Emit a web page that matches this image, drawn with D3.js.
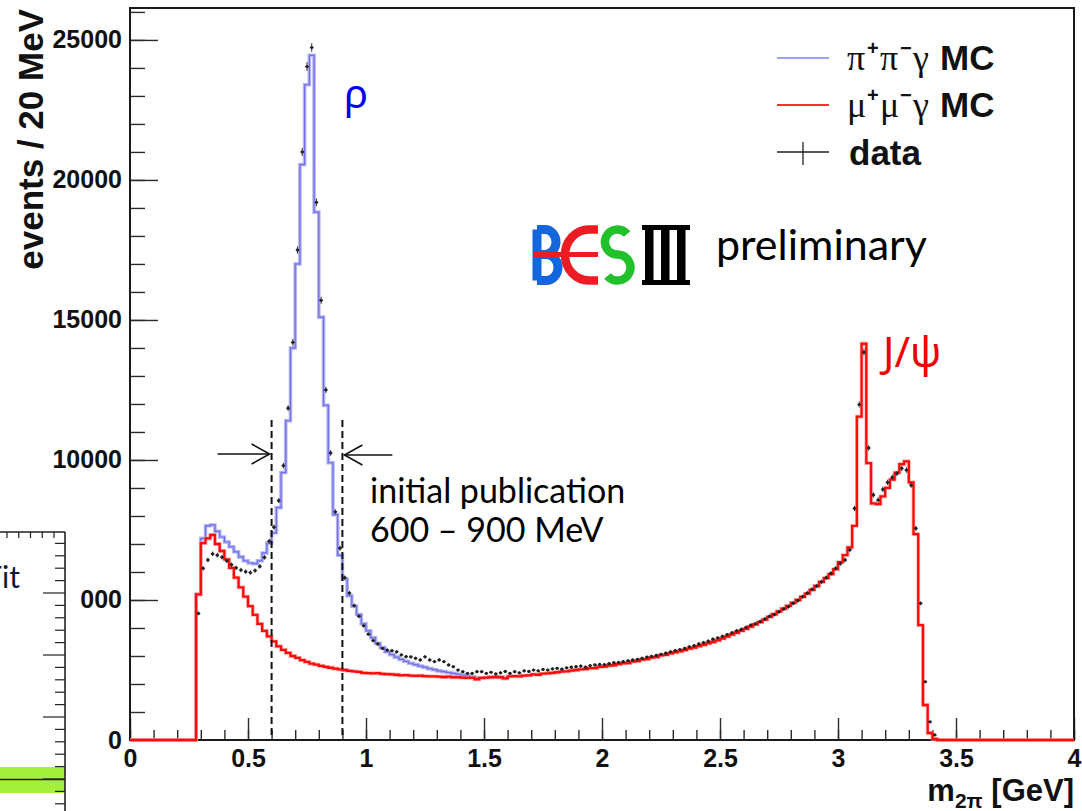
<!DOCTYPE html>
<html>
<head>
<meta charset="utf-8">
<script src="https://cdn.jsdelivr.net/npm/d3@7"></script>
<style>
  html, body { margin: 0; padding: 0; background: #fff; overflow: hidden; }
  svg { display: block; }
</style>
</head>
<body>
<svg id="chart" width="1082" height="811"></svg>
<script>
// Histogram binning: 20 MeV bins, first filled bin starts at 0.28 GeV
const binStart = 0.28;
const binWidth = 0.02;

// mu+ mu- gamma MC, events per bin
const mumuMC = [
  5200, 7030, 7200, 7320, 7000, 6750, 6450, 6150, 5800, 5450,
  5120, 4780, 4470, 4150, 3900, 3700, 3520, 3340, 3220, 3110,
  3000, 2930, 2850, 2790, 2730, 2690, 2650, 2610, 2580, 2550,
  2520, 2500, 2470, 2450, 2430, 2400, 2390, 2380, 2390, 2360,
  2350, 2340, 2330, 2310, 2320, 2300, 2290, 2300, 2280, 2270,
  2270, 2260, 2250, 2260, 2240, 2240, 2230, 2220, 2230, 2170,
  2220, 2230, 2240, 2250, 2240, 2200, 2270, 2280, 2270, 2300,
  2310, 2340, 2330, 2370, 2380, 2400, 2420, 2440, 2450, 2480,
  2500, 2520, 2530, 2570, 2570, 2610, 2620, 2660, 2670, 2710,
  2740, 2750, 2800, 2820, 2870, 2890, 2940, 2960, 3020, 3040,
  3090, 3130, 3170, 3210, 3260, 3300, 3350, 3400, 3450, 3500,
  3560, 3620, 3690, 3760, 3830, 3900, 3970, 4050, 4130, 4210,
  4300, 4400, 4490, 4590, 4690, 4790, 4900, 5000, 5110, 5230,
  5360, 5500, 5650, 5780, 5920, 6100, 6350, 6600, 6880, 7650,
  11550, 14150, 9890, 8450, 8420, 8700, 9000, 9300, 9550, 9850,
  9950, 9200, 7350, 4100, 1250, 250, 40
];

// pi+ pi- gamma MC (drawn on top of the muon sample), events per bin
const pipiMC = [
  5200, 7200, 7650, 7680, 7450, 7250, 7070, 6900, 6720, 6540,
  6400, 6320, 6300, 6400, 6680, 7030, 7400, 8300, 9550, 11400,
  14000, 17000, 20550, 23400, 24450, 18850, 15100, 11950, 9900, 8050,
  6600, 5750, 5150, 4780, 4480, 4150, 3900, 3650, 3450, 3300,
  3150, 3050, 2960, 2880, 2810, 2740, 2690, 2640, 2600, 2550,
  2510, 2470, 2440, 2410, 2380, 2350, 2320, 2290, 2260, 2230,
  2220, 2230, 2240, 2250, 2240, 2200
];

// Measured events per bin
const dataCounts = [
  4520, 6130, 6430, 6650, 6600, 6530, 6400, 6260, 6150, 6070,
  6010, 5980, 6050, 6200, 6520, 7100, 7600, 8550, 9800, 11850,
  14200, 17500, 21000, 24050, 24730, 19200, 15700, 12500, 10250, 8150,
  6850, 5800, 5250, 4800, 4420, 4080, 3780, 3550, 3430, 3270,
  3210, 3190, 3150, 3040, 2980, 2970, 2920, 2860, 2970, 2860,
  2800, 2860, 2800, 2680, 2620, 2500, 2440, 2380, 2380, 2440,
  2440, 2380, 2420, 2360, 2400, 2450, 2380, 2440, 2400, 2470,
  2450, 2500, 2470, 2520, 2500, 2540, 2560, 2530, 2580, 2600,
  2620, 2640, 2600, 2660, 2680, 2700, 2690, 2730, 2760, 2770,
  2800, 2830, 2860, 2880, 2920, 2960, 2990, 3020, 3060, 3100,
  3150, 3190, 3230, 3270, 3330, 3370, 3430, 3480, 3530, 3600,
  3650, 3700, 3760, 3830, 3900, 3950, 4020, 4100, 4150, 4230,
  4320, 4420, 4480, 4580, 4680, 4760, 4880, 4980, 5120, 5250,
  5380, 5500, 5650, 5800, 5950, 6130, 6300, 6430, 6790, 8270,
  11980, 13850, 10430, 8750, 8570, 8950, 9200, 9380, 9520, 9700,
  9640, 9100, 7560, 4880, 2080, 650, 180
];

const xTickValues = [0, 0.5, 1, 1.5, 2, 2.5, 3, 3.5, 4];
const xTickLabels = ["0", "0.5", "1", "1.5", "2", "2.5", "3", "3.5", "4"];
const yTickValues = [0, 5000, 10000, 15000, 20000, 25000];
const yTickLabels = ["0", "5000", "10000", "15000", "20000", "25000"];
const massWindow = [0.6, 0.9];   // GeV, initial publication range

const SANS = "'Liberation Sans', Arial, Helvetica, sans-serif";
const SERIF = "'Liberation Serif', 'Times New Roman', serif";
const NOTE = "Lato, 'Open Sans', 'Noto Sans', sans-serif";
const GREEK = "'Noto Sans', 'Open Sans', 'DejaVu Sans', sans-serif";

const svg = d3.select("#chart");
const x = d3.scaleLinear().domain([0, 4]).range([130, 1074]);
const y = d3.scaleLinear().domain([0, 26140]).range([740, 8]);

// ---------- axes ----------
function styleAxis(g) {
  g.select(".domain").remove();
  g.selectAll(".tick line").attr("stroke", "#2a2a2a").attr("stroke-width", 1.4);
  g.selectAll(".tick text")
    .attr("font-family", SANS).attr("font-weight", "bold")
    .attr("font-size", 25).attr("fill", "#111");
}

svg.append("g").attr("transform", "translate(0,740)")
  .call(d3.axisBottom(x).tickValues(d3.range(0, 41).map(i => i / 10))
    .tickSize(-10).tickFormat(""))
  .call(styleAxis);
svg.append("g").attr("transform", "translate(0,740)")
  .call(d3.axisBottom(x).tickValues(xTickValues).tickSize(-22).tickPadding(9)
    .tickFormat((d, i) => xTickLabels[i]))
  .call(styleAxis);

svg.append("g").attr("transform", "translate(130,0)")
  .call(d3.axisLeft(y).tickValues(d3.range(0, 26001, 1000))
    .tickSize(-15).tickFormat(""))
  .call(styleAxis);
svg.append("g").attr("transform", "translate(130,0)")
  .call(d3.axisLeft(y).tickValues(yTickValues).tickSize(-28).tickPadding(8)
    .tickFormat((d, i) => yTickLabels[i]))
  .call(styleAxis);

// frame
svg.append("rect")
  .attr("x", x(0)).attr("y", y.range()[1])
  .attr("width", x(4) - x(0)).attr("height", y(0) - y.range()[1])
  .attr("fill", "none").attr("stroke", "#1a1a1a").attr("stroke-width", 2);

// axis titles
svg.append("text")
  .attr("transform", `translate(43,9) rotate(-90)`)
  .attr("text-anchor", "end")
  .attr("font-family", SANS).attr("font-weight", "bold").attr("font-size", 35)
  .attr("fill", "#111")
  .text("events / 20 MeV");

const xt = svg.append("text")
  .attr("x", x(4)).attr("y", 801)
  .attr("text-anchor", "end")
  .attr("font-family", SANS).attr("font-weight", "bold").attr("font-size", 31)
  .attr("fill", "#111");
xt.append("tspan").text("m");
xt.append("tspan").attr("dy", 7).attr("font-size", 21).text("2π");
xt.append("tspan").attr("dy", -7).text(" [GeV]");

// ---------- histograms ----------
function stepPoints(values) {
  const pts = [[0, 0]];
  values.forEach((v, i) => pts.push([binStart + i * binWidth, v]));
  pts.push([binStart + values.length * binWidth, 0]);
  return pts;
}
const stepLine = d3.line().x(d => x(d[0])).y(d => y(d[1])).curve(d3.curveStepAfter);

// pion MC
const pipiPts = [[0, 0]];
pipiMC.forEach((v, i) => pipiPts.push([binStart + i * binWidth, v]));
pipiPts.push([binStart + pipiMC.length * binWidth, pipiMC[pipiMC.length - 1]]);
svg.append("path").attr("d", stepLine(pipiPts))
  .attr("fill", "none").attr("stroke", "#b4b4f2").attr("stroke-width", 3.6);
svg.append("path").attr("d", stepLine(pipiPts))
  .attr("fill", "none").attr("stroke", "#6e6ee4").attr("stroke-width", 1.2);

// muon MC
const mumuPts = stepPoints(mumuMC);
mumuPts.push([4, 0]);
svg.append("path").attr("d", stepLine(mumuPts))
  .attr("fill", "none").attr("stroke", "#ff9a9a").attr("stroke-width", 3.8)
  .attr("stroke-opacity", 0.7);
svg.append("path").attr("d", stepLine(mumuPts))
  .attr("fill", "none").attr("stroke", "#ff0a0a").attr("stroke-width", 2.3);

// data points with error bars
const dataG = svg.append("g");
dataCounts.forEach((v, i) => {
  const lo = binStart + i * binWidth;
  const cx = x(lo + binWidth / 2);
  const cy = y(v);
  const err = Math.sqrt(v);
  dataG.append("line")
    .attr("x1", x(lo) + 0.5).attr("x2", x(lo + binWidth) - 0.5)
    .attr("y1", cy).attr("y2", cy)
    .attr("stroke", "#333").attr("stroke-width", 1);
  dataG.append("line")
    .attr("x1", cx).attr("x2", cx)
    .attr("y1", y(v + err)).attr("y2", y(v - err))
    .attr("stroke", "#333").attr("stroke-width", 1);
  dataG.append("circle").attr("cx", cx).attr("cy", cy).attr("r", 1.6)
    .attr("fill", "#222");
});

// ---------- mass window markers ----------
massWindow.forEach(m => {
  svg.append("line")
    .attr("x1", x(m)).attr("x2", x(m)).attr("y1", 420).attr("y2", y(0))
    .attr("stroke", "#111").attr("stroke-width", 2).attr("stroke-dasharray", "7,4");
});
function arrow(x1, x2, yy) {
  const dir = Math.sign(x2 - x1);
  const g = svg.append("g").attr("stroke", "#111").attr("stroke-width", 1.6)
    .attr("fill", "none");
  g.append("line").attr("x1", x1).attr("x2", x2).attr("y1", yy).attr("y2", yy);
  g.append("polyline").attr("points",
    `${x2 - dir * 18},${yy - 10} ${x2},${yy} ${x2 - dir * 18},${yy + 10}`);
}
arrow(x(massWindow[0]) - 54, x(massWindow[0]) - 2, 454);
arrow(x(massWindow[1]) + 50, x(massWindow[1]) + 2, 455);

svg.append("text").attr("x", 370).attr("y", 503)
  .attr("font-family", NOTE).attr("font-size", 34).attr("fill", "#000")
  .text("initial publication");
svg.append("text").attr("x", 370).attr("y", 542)
  .attr("font-family", NOTE).attr("font-size", 34).attr("fill", "#000")
  .text("600 – 900 MeV");

// resonance labels
svg.append("text").attr("x", 344).attr("y", 108)
  .attr("font-family", GREEK).attr("font-size", 40).attr("fill", "#0000f0")
  .text("ρ");
svg.append("text").attr("x", 883).attr("y", 367)
  .attr("font-family", GREEK).attr("font-size", 42).attr("fill", "#f00000")
  .text("J/ψ");

// ---------- legend ----------
const legendX1 = 777, legendX2 = 829;
svg.append("line").attr("x1", legendX1).attr("x2", legendX2).attr("y1", 58).attr("y2", 58)
  .attr("stroke", "#8080ec").attr("stroke-width", 1.6);
svg.append("line").attr("x1", legendX1).attr("x2", legendX2).attr("y1", 105).attr("y2", 105)
  .attr("stroke", "#ff3030").attr("stroke-width", 1.8);
svg.append("line").attr("x1", legendX1).attr("x2", legendX2).attr("y1", 152).attr("y2", 152)
  .attr("stroke", "#222").attr("stroke-width", 1.3);
svg.append("line").attr("x1", (legendX1 + legendX2) / 2).attr("x2", (legendX1 + legendX2) / 2)
  .attr("y1", 142).attr("y2", 165).attr("stroke", "#222").attr("stroke-width", 1.3);

function legendEntry(yBase, greek) {
  const g = svg.append("g").attr("fill", "#111");
  const xs = [847, 867, 880, 900, 913];
  const parts = [greek, "+", greek, "−", "γ"];
  parts.forEach((p, i) => {
    const sup = (i === 1 || i === 3);
    g.append("text")
      .attr("x", xs[i]).attr("y", sup ? yBase - 15 : yBase)
      .attr("font-family", sup ? SANS : SERIF)
      .attr("font-weight", sup ? "bold" : "normal")
      .attr("font-size", sup ? 20 : 36)
      .text(p);
  });
  g.append("text").attr("x", 940).attr("y", yBase)
    .attr("font-family", SANS).attr("font-weight", "bold").attr("font-size", 35)
    .text("MC");
}
legendEntry(70, "π");
legendEntry(117, "μ");
svg.append("text").attr("x", 849).attr("y", 165)
  .attr("font-family", SANS).attr("font-weight", "bold").attr("font-size", 35)
  .attr("fill", "#111").text("data");

// ---------- experiment logo ----------
const logo = svg.append("g");
// B
logo.append("path")
  .attr("d", "M537,229.5 V280.5 M537,229.5 H545 A11,12.5 0 0 1 545,254.5 H537 M537,254.5 H546 A12,13 0 0 1 546,280.5 H537")
  .attr("fill", "none").attr("stroke", "#1466dc").attr("stroke-width", 9);
// E
logo.append("path")
  .attr("d", "M598,229.5 H589 A24,25.5 0 0 0 589,280.5 H598")
  .attr("fill", "none").attr("stroke", "#ec1c24").attr("stroke-width", 8.5);
logo.append("path").attr("d", "M533,254.5 H598")
  .attr("stroke", "#ec1c24").attr("stroke-width", 5);
// S
logo.append("path")
  .attr("d", "M627.1,234 A12.5,12.5 0 1 0 617.5,254.5 A13,13 0 1 1 607.5,275.9")
  .attr("fill", "none").attr("stroke", "#22c02a").attr("stroke-width", 8.5);
// III
logo.append("rect").attr("x", 642).attr("y", 225).attr("width", 48).attr("height", 5).attr("fill", "#000");
logo.append("rect").attr("x", 642).attr("y", 280).attr("width", 48).attr("height", 5).attr("fill", "#000");
[645, 661, 677].forEach(px => {
  logo.append("rect").attr("x", px).attr("y", 225).attr("width", 8.5).attr("height", 60).attr("fill", "#000");
});
svg.append("text").attr("x", 716).attr("y", 260)
  .attr("font-family", NOTE).attr("font-size", 43).attr("fill", "#000")
  .text("preliminary");

// ---------- neighbouring fit panel (partly hidden at the left edge) ----------
const side = svg.append("g");
side.append("rect").attr("x", 0).attr("y", 528).attr("width", 81).attr("height", 283).attr("fill", "#fff");
const sideY = d3.scaleLinear().domain([0, 5]).range([593, 655]);
const sideX = d3.scaleLinear().domain([0, 4]).range([7, 54]);
side.append("rect").attr("x", 0).attr("y", 767).attr("width", 65).attr("height", 26).attr("fill", "#a4ee3c");
side.append("line").attr("x1", 0).attr("x2", 65).attr("y1", 779.5).attr("y2", 779.5)
  .attr("stroke", "#222").attr("stroke-width", 1.4);
side.append("line").attr("x1", 0).attr("x2", 65).attr("y1", 532).attr("y2", 532)
  .attr("stroke", "#222").attr("stroke-width", 1.6);
side.append("line").attr("x1", 65).attr("x2", 65).attr("y1", 532).attr("y2", 811)
  .attr("stroke", "#222").attr("stroke-width", 1.6);
d3.range(-4, 18).forEach(k => {
  const long = k % 5 === 0;
  side.append("line").attr("x1", long ? 43 : 55).attr("x2", 65)
    .attr("y1", sideY(k)).attr("y2", sideY(k))
    .attr("stroke", "#222").attr("stroke-width", 1.2);
});
d3.range(0, 5).forEach(k => {
  side.append("line").attr("x1", sideX(k)).attr("x2", sideX(k))
    .attr("y1", 532).attr("y2", 538).attr("stroke", "#222").attr("stroke-width", 1.2);
});
side.append("text").attr("x", 20).attr("y", 588).attr("text-anchor", "end")
  .attr("font-family", NOTE).attr("font-size", 30).attr("fill", "#0a1838")
  .text("Fit");
</script>
</body>
</html>
